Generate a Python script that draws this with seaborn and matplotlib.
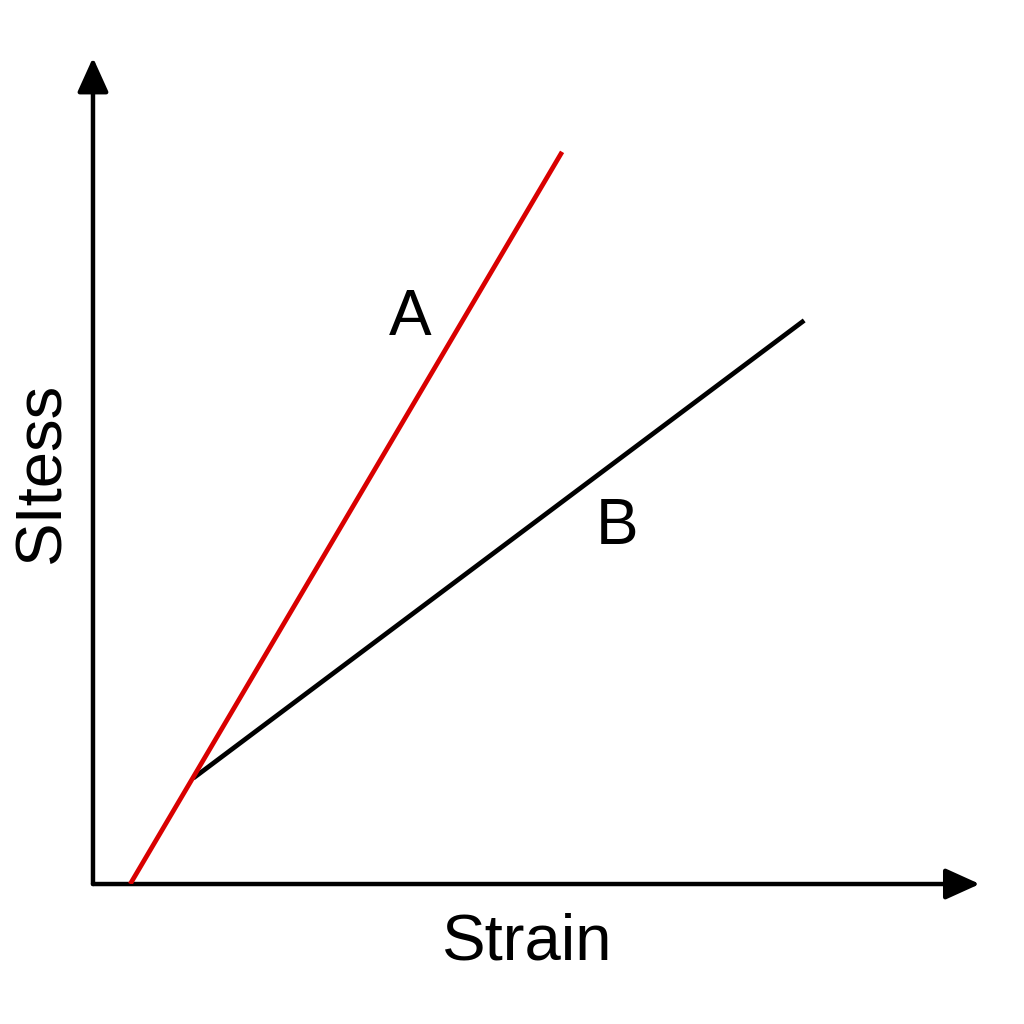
import numpy as np
import pandas as pd
import matplotlib
matplotlib.use("Agg")
import matplotlib.pyplot as plt
import seaborn as sns

# line end points (strain, stress in arbitrary units)
strain_a = [0.42, 5.29]
stress_a = [0.0, 8.86]
strain_b = [1.13, 8.02]
stress_b = [1.28, 6.82]

label_names = ["A", "B"]
label_x = [3.58, 5.91]
label_y = [6.85, 4.32]

df = pd.concat([
    pd.DataFrame({"strain": strain_a, "stress": stress_a, "material": "A"}),
    pd.DataFrame({"strain": strain_b, "stress": stress_b, "material": "B"}),
])

sns.set_style("white")
plt.rcParams["font.family"] = ["Liberation Sans", "DejaVu Sans"]
plt.rcParams["text.color"] = "black"

fig = plt.figure(figsize=(10.24, 10.24), dpi=100)
ax = fig.add_axes([0.0908, 0.1367, 0.866, 0.807])

sns.lineplot(data=df, x="strain", y="stress", hue="material",
             palette={"A": "#d90000", "B": "black"}, lw=3.4,
             legend=False, ax=ax, zorder=3)
# keep the red line on top where they meet
ax.lines[0].set_zorder(4)
for ln in ax.lines:
    ln.set_solid_capstyle("butt")

ax.set_xlim(0, 10)
ax.set_ylim(0, 10)
ax.set_xticks([])
ax.set_yticks([])
ax.set_xlabel("")
ax.set_ylabel("")
for s in ax.spines.values():
    s.set_visible(False)

# axes with arrow heads
arrow_kw = dict(arrowstyle="-|>,head_length=2.1,head_width=0.95", lw=3.2,
                color="black", shrinkA=0, shrinkB=0)
ax.annotate("", xy=(1.0, 0.0), xytext=(0.0, 0.0), xycoords="axes fraction",
            arrowprops=arrow_kw, annotation_clip=False)
ax.annotate("", xy=(0.0, 1.0), xytext=(0.0, 0.0), xycoords="axes fraction",
            arrowprops=arrow_kw, annotation_clip=False)

for name, x, y in zip(label_names, label_x, label_y):
    ax.text(x, y, name, fontsize=46, ha="center", va="center", color="black")

fig.text(527 / 1024, 1 - 942 / 1024, "Strain", fontsize=47, ha="center", va="center",
         color="black")
fig.text(42 / 1024, 1 - 472 / 1024, "SItess", fontsize=47, ha="center", va="center",
         rotation=90, color="black")

fig.savefig("out.png", dpi=100, facecolor="white")
